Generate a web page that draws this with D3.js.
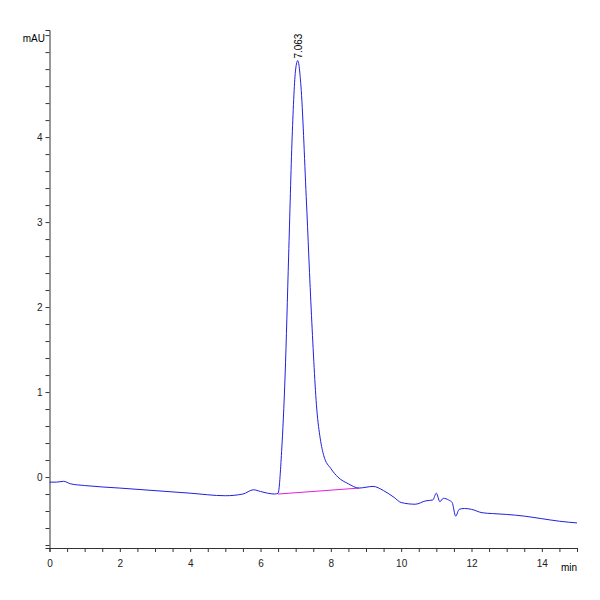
<!DOCTYPE html><html><head><script src="https://d3js.org/d3.v7.min.js"></script>
<style>body{margin:0;background:#fff}text{font-family:Arial,"Liberation Sans",sans-serif}</style></head><body>
<svg id="c" width="600" height="600"></svg>
<script>
const times=[0,0.2,0.4,0.6,1,2,3,4,5,5.5,5.8,6.0,6.2,6.4,6.5,6.6,6.7,6.8,6.9,7.0,7.06,7.15,7.3,7.45,7.6,7.7,7.8,8.0,8.2,8.5,8.8,9.0,9.2,9.5,9.8,10,10.4,10.7,10.9,11.0,11.1,11.2,11.35,11.45,11.55,11.65,11.8,12.0,12.3,12.6,13,13.5,14,14.5,15];
const signal=[-0.06,-0.06,-0.05,-0.08,-0.1,-0.13,-0.16,-0.19,-0.22,-0.2,-0.15,-0.17,-0.19,-0.2,-0.19,0.3,1.2,2.6,4.0,4.8,4.9,4.6,3.3,1.9,0.8,0.45,0.25,0.1,0.0,-0.08,-0.13,-0.12,-0.11,-0.16,-0.24,-0.3,-0.32,-0.28,-0.27,-0.19,-0.29,-0.25,-0.27,-0.3,-0.46,-0.38,-0.37,-0.38,-0.42,-0.43,-0.44,-0.46,-0.49,-0.52,-0.54];
const baseline=[[6.5,-0.2],[8.8,-0.13]];
const peakLabel={t:7.063,text:"7.063"};
const xTicks=[0,2,4,6,8,10,12,14], yTicks=[0,1,2,3,4];
const svg=d3.select("#c");
const x=d3.scaleLinear().domain([0,15]).range([49.5,577]);
const y=d3.scaleLinear().domain([-0.835,5.26]).range([548,30]);
const xa=svg.append("g").attr("transform","translate(0,548)").call(d3.axisBottom(x).tickValues(d3.range(0,15.01,0.5)).tickSize(4).tickFormat(d=>xTicks.includes(d)?d:""));
const ya=svg.append("g").attr("transform","translate(49.5,0)").call(d3.axisLeft(y).tickValues(d3.range(-0.8,5.21,0.2).map(v=>+v.toFixed(1))).tickSize(4).tickFormat(d=>yTicks.includes(d)?d:""));
[xa,ya].forEach(a=>{a.selectAll("path,line").attr("stroke","#333");a.selectAll("text").attr("font-size",10).attr("fill","#222")});
xa.selectAll("text").attr("dy","1.2em");
svg.append("text").attr("x",45).attr("y",42).attr("text-anchor","end").attr("font-size",10).text("mAU");
svg.append("text").attr("x",577).attr("y",571).attr("text-anchor","end").attr("font-size",10).text("min");
const line=d3.line().x(d=>x(d[0])).y(d=>y(d[1])).curve(d3.curveMonotoneX);
svg.append("path").attr("d",line(baseline)).attr("stroke","#e020e0").attr("fill","none");
svg.append("path").attr("d",line(times.map((t,i)=>[t,signal[i]]))).attr("stroke","#2020e0").attr("fill","none").attr("stroke-width",1);
svg.append("text").attr("transform",`translate(${x(peakLabel.t)+4},${y(4.9)-2}) rotate(-90)`).attr("font-size",10).text(peakLabel.text);
</script></body></html>
